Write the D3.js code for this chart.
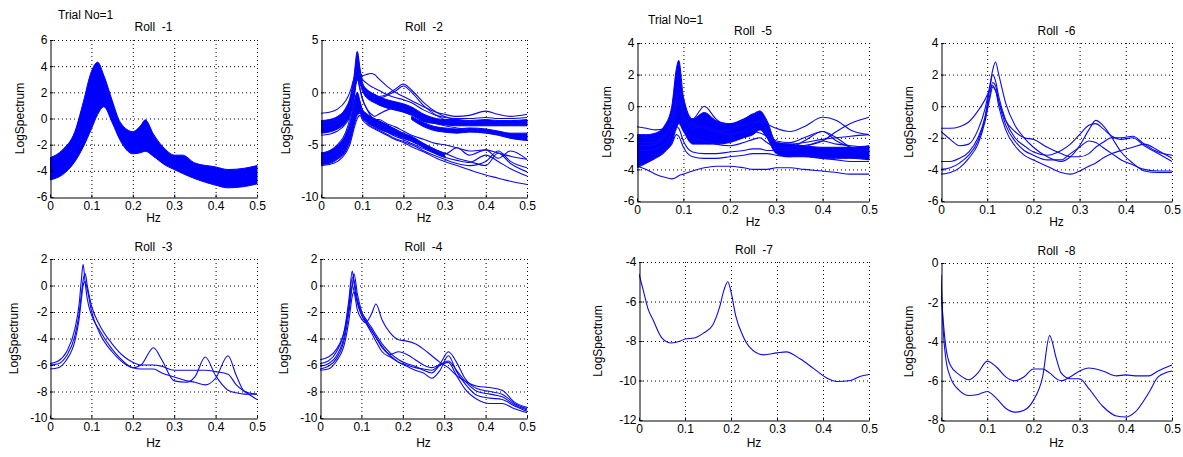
<!DOCTYPE html>
<html lang="ja">
<head>
<meta charset="UTF-8">
<title>LogSpectrum Roll 1-8</title>
<script src="https://d3js.org/d3.v7.min.js"></script>
<style>
  body { margin: 0; background: #fff; }
  svg { display: block; font-family: "Liberation Sans", Arial, sans-serif; }
  .grid line { stroke: #000; stroke-width: 1; stroke-dasharray: 1,3; }
  .axis text { font-size: 12px; fill: #000; font-family: "Liberation Sans", Arial, sans-serif; }
  .axis path, .axis line { stroke: #000; }
  .lbl { font-size: 12px; fill: #000; white-space: pre; }
</style>
</head>
<body>
<svg id="chart" width="1183" height="457"></svg>
<script>
// ---- data ----
const xTicks = [0, 0.1, 0.2, 0.3, 0.4, 0.5];

// Roll -1 : one dense band of curves
const roll1Hz = [0, 0.03, 0.06, 0.08, 0.1, 0.115, 0.13, 0.15, 0.17, 0.2, 0.22, 0.23, 0.25, 0.28, 0.3, 0.32, 0.35, 0.4, 0.43, 0.47, 0.5];
const roll1Hi = [-3.0, -2.4, -1.0, 1.2, 3.6, 4.3, 3.3, 1.4, -0.3, -1.0, -0.5, -0.1, -1.2, -2.4, -2.8, -2.8, -3.4, -3.7, -3.9, -3.8, -3.6];
const roll1Lo = [-4.7, -4.3, -3.3, -2.2, -0.8, 0.3, 0.9, -0.3, -1.7, -2.7, -2.6, -2.5, -2.9, -3.6, -3.9, -4.2, -4.6, -5.1, -5.3, -5.2, -5.0];

// Roll -2 : two groups
const roll2Hz = [0, 0.02, 0.04, 0.06, 0.07, 0.08, 0.088, 0.095, 0.1, 0.11, 0.12, 0.13, 0.14, 0.16, 0.18, 0.2, 0.22, 0.25, 0.28, 0.3, 0.33, 0.36, 0.4, 0.43, 0.46, 0.5];
const roll2UpperHi = [-2.7, -2.6, -2.3, -1.5, -0.6, 1.5, 3.9, 2.2, 1.0, 0.3, 0.0, -0.2, -0.4, -0.7, -0.9, -1.1, -1.4, -2.1, -2.5, -2.6, -2.6, -2.7, -2.6, -2.7, -2.7, -2.6];
const roll2UpperLo = [-3.9, -3.8, -3.5, -2.9, -2.2, -0.6, 1.2, 0.8, 0.2, -0.5, -0.8, -1.0, -1.2, -1.5, -1.7, -1.9, -2.2, -2.8, -3.0, -3.1, -3.2, -3.2, -3.2, -3.2, -3.2, -3.2];
const roll2BranchHi = [null, null, null, null, null, null, null, null, null, null, null, null, null, null, null, null, -2.3, -2.9, -3.3, -3.4, -3.5, -3.4, -3.5, -3.7, -3.9, -3.9];
const roll2BranchLo = [null, null, null, null, null, null, null, null, null, null, null, null, null, null, null, null, -2.6, -3.3, -3.7, -3.8, -3.9, -3.8, -3.9, -4.1, -4.4, -4.6];
const roll2LowerHi = [-5.8, -5.6, -5.1, -4.0, -2.9, -1.0, 0.0, -0.9, -1.6, -2.0, -2.3, -2.5, -2.7, -3.1, -3.5, -3.9, -4.2, -4.9, -5.5, -5.9, null, null, null, null, null, null];
const roll2LowerLo = [-6.9, -6.8, -6.4, -5.6, -4.7, -3.2, -2.2, -2.0, -2.4, -2.8, -3.1, -3.3, -3.5, -3.8, -4.1, -4.4, -4.7, -5.3, -5.9, -6.2, null, null, null, null, null, null];
const roll2Lines = [
  [-2.0, -1.9, -1.6, -0.8, 0.0, 1.3, 2.2, 1.8, 1.6, 1.7, 1.8, 1.7, 1.3, 0.6, 0.0, -0.4, -0.8, -1.4, -1.9, -2.1, -2.3, -2.2, -1.8, -2.1, -2.3, -2.1],
  [-3.0, -2.9, -2.6, -1.8, -0.9, 0.8, 2.8, 1.5, 0.8, 0.3, 0.0, -0.2, -0.4, -0.2, 0.3, 0.8, 0.2, -1.0, -1.9, -2.3, -2.6, -2.8, -2.8, -2.9, -3.0, -3.0],
  [-3.3, -3.2, -2.9, -2.2, -1.3, 0.5, 2.0, 1.0, 0.5, 0.0, -0.3, -0.5, -0.6, -0.3, 0.1, 0.6, 0.0, -1.3, -2.2, -2.6, -2.8, -2.9, -3.0, -3.1, -3.1, -3.0],
  [-2.8, -2.7, -2.4, -1.6, -0.7, 1.0, 3.3, 2.0, 1.3, 0.9, 0.6, 0.4, 0.2, -0.2, -0.5, -0.7, -1.0, -1.7, -2.2, -2.4, -2.5, -2.5, -2.4, -2.5, -2.5, -2.4],
  [-4.1, -4.0, -3.7, -3.0, -2.3, -0.5, 1.8, 0.3, -0.5, -1.5, -2.0, -2.3, -2.1, -1.7, -1.5, -1.6, -2.0, -2.6, -3.0, -3.2, -3.4, -3.6, -3.8, -4.0, -4.2, -4.3],
  [-5.8, -5.6, -5.0, -3.8, -2.5, 0.0, 1.2, 0.2, -0.6, -1.5, -2.2, -2.6, -2.6, -3.0, -3.3, -3.7, -4.1, -4.5, -4.9, -5.0, -5.3, -5.6, -5.5, -5.8, -6.1, -6.4],
  [-6.3, -6.2, -5.8, -4.8, -3.8, -2.0, -0.8, -1.3, -1.8, -2.4, -2.8, -3.0, -3.2, -3.6, -4.0, -4.3, -4.6, -5.1, -5.6, -5.9, -5.3, -6.0, -5.5, -6.3, -5.6, -6.4],
  [-7.0, -6.9, -6.6, -5.8, -5.0, -3.5, -2.5, -2.2, -2.6, -3.0, -3.3, -3.5, -3.7, -4.1, -4.5, -4.8, -5.2, -5.7, -6.3, -6.6, -7.0, -7.4, -7.9, -8.2, -8.5, -8.8],
  [-6.6, -6.5, -6.1, -5.2, -4.3, -2.8, -1.5, -1.7, -2.2, -2.6, -3.0, -3.2, -3.4, -3.8, -4.2, -4.5, -4.9, -5.4, -5.9, -6.2, -6.5, -6.7, -6.0, -6.6, -7.3, -8.0],
  [-6.1, -6.0, -5.6, -4.6, -3.6, -1.6, -0.3, -1.0, -1.7, -2.2, -2.6, -2.8, -3.0, -3.4, -3.8, -4.1, -4.5, -5.0, -5.5, -5.8, -6.3, -6.6, -7.0, -5.8, -6.8, -7.6],
  [-6.8, -6.7, -6.3, -5.5, -4.6, -3.0, -1.9, -1.9, -2.4, -2.8, -3.2, -3.4, -3.6, -4.0, -4.4, -4.7, -5.0, -5.6, -6.1, -6.4, -6.8, -7.0, -6.6, -5.6, -6.6, -7.2]
];

// Roll -3
const roll3Hz = [0, 0.02, 0.04, 0.06, 0.07, 0.076, 0.08, 0.085, 0.09, 0.1, 0.12, 0.15, 0.18, 0.2, 0.22, 0.25, 0.27, 0.3, 0.33, 0.35, 0.375, 0.4, 0.43, 0.45, 0.47, 0.5];
const roll3Lines = [
  [-5.9, -5.7, -5.0, -3.3, -1.5, 0.5, 1.6, 0.2, -1.0, -2.2, -3.4, -4.8, -5.8, -6.2, -6.0, -4.7, -5.6, -7.2, -7.3, -6.9, -5.4, -6.8, -7.9, -8.1, -8.2, -8.2],
  [-6.0, -5.9, -5.3, -3.8, -2.2, -0.6, 0.4, 0.9, 0.0, -1.5, -3.0, -4.4, -5.4, -5.8, -6.0, -6.0, -6.1, -6.4, -6.4, -6.4, -6.4, -6.5, -6.7, -7.5, -8.0, -8.6],
  [-6.3, -6.2, -5.6, -4.2, -2.6, -1.0, 0.0, 0.3, -0.3, -1.9, -3.6, -5.0, -5.9, -6.2, -6.3, -6.3, -6.6, -6.9, -7.2, -7.3, -7.5, -7.0, -5.3, -6.8, -8.0, -8.2]
];

// Roll -4
const roll4Hz = [0, 0.02, 0.04, 0.06, 0.07, 0.078, 0.082, 0.09, 0.1, 0.11, 0.125, 0.135, 0.15, 0.17, 0.19, 0.21, 0.23, 0.25, 0.27, 0.29, 0.31, 0.33, 0.35, 0.38, 0.41, 0.44, 0.47, 0.5];
const roll4Lines = [
  [-5.6, -5.4, -4.8, -3.3, -1.6, 0.0, -0.4, -1.8, -2.5, -2.8, -2.1, -1.4, -2.6, -3.6, -4.1, -4.2, -4.4, -4.8, -5.3, -5.8, -6.2, -6.8, -7.2, -7.6, -7.7, -7.9, -8.8, -9.2],
  [-5.9, -5.7, -5.0, -3.2, -1.0, 1.1, 0.2, -1.3, -2.2, -2.7, -3.4, -3.9, -4.6, -5.2, -5.0, -5.2, -5.6, -6.0, -6.2, -5.9, -5.0, -5.8, -7.0, -7.8, -8.0, -8.2, -8.9, -9.3],
  [-6.1, -5.9, -5.3, -3.6, -1.5, 0.6, 0.4, -1.0, -2.0, -2.5, -3.2, -3.7, -4.4, -5.1, -5.6, -5.9, -6.1, -6.4, -6.6, -6.0, -5.7, -6.4, -7.2, -8.0, -8.2, -8.4, -9.0, -9.4],
  [-6.3, -6.1, -5.5, -3.9, -2.0, 0.0, 0.9, -0.6, -1.9, -2.6, -3.4, -3.9, -4.7, -5.3, -5.8, -6.1, -6.4, -6.6, -7.0, -6.4, -5.3, -6.5, -7.4, -8.3, -8.5, -8.6, -9.1, -9.5],
  [-6.4, -6.3, -5.7, -4.3, -2.6, -0.8, -0.5, -1.2, -2.2, -2.8, -3.6, -4.2, -5.0, -5.4, -5.8, -6.0, -6.2, -6.3, -6.4, -6.0, -5.8, -6.8, -7.8, -8.6, -8.9, -8.9, -9.3, -9.6]
];

// Roll -5
const roll5Hz = [0, 0.02, 0.04, 0.06, 0.075, 0.085, 0.09, 0.1, 0.12, 0.145, 0.17, 0.2, 0.23, 0.25, 0.265, 0.28, 0.3, 0.33, 0.36, 0.4, 0.43, 0.46, 0.5];
const roll5Hi = [-1.8, -1.8, -1.7, -1.2, 0.0, 2.4, 2.9, 0.6, -0.8, -0.4, -0.9, -1.1, -0.8, -0.5, -0.3, -0.9, -2.3, -2.4, -2.5, -2.6, -2.6, -2.6, -2.5];
const roll5Lo = [-3.8, -3.6, -3.3, -2.9, -2.3, -1.4, -1.1, -1.6, -2.4, -2.4, -2.4, -2.3, -2.0, -1.8, -1.5, -2.0, -3.0, -3.2, -3.2, -3.3, -3.3, -3.3, -3.4];
const roll5Lines = [
  [-3.8, -4.0, -4.3, -4.5, -4.6, -4.5, -4.4, -4.3, -4.1, -3.9, -3.8, -3.8, -3.9, -4.0, -4.0, -4.0, -3.9, -3.9, -4.0, -4.1, -4.2, -4.3, -4.3],
  [-2.0, -2.0, -2.1, -1.8, -0.8, 0.8, 1.2, 0.0, -1.0, -1.4, -1.6, -1.5, -0.9, -0.5, -0.6, -1.1, -1.4, -1.6, -1.3, -0.7, -0.9, -1.5, -1.8],
  [-2.8, -2.8, -2.7, -2.4, -1.6, -0.5, -0.3, -1.2, -2.0, -2.2, -2.4, -2.5, -2.3, -2.1, -2.0, -2.3, -2.6, -2.7, -2.5, -2.2, -1.6, -1.1, -0.7],
  [-3.5, -3.4, -3.1, -2.6, -2.0, -1.3, -1.4, -2.2, -2.9, -3.0, -3.0, -2.9, -2.8, -2.7, -2.7, -2.8, -2.8, -2.8, -2.6, -2.2, -2.4, -2.5, -2.6],
  [-2.2, -2.3, -2.3, -1.8, -1.0, 0.0, 0.2, -0.8, -0.8, 0.0, -0.8, -1.3, -1.2, -1.0, -1.0, -1.5, -2.2, -2.3, -2.0, -1.6, -2.2, -2.6, -2.8],
  [-2.5, -2.5, -2.4, -2.0, -1.2, 0.5, 0.9, -0.4, -1.4, -1.3, -1.5, -1.8, -1.6, -1.2, -0.9, -1.6, -2.6, -2.6, -2.2, -1.6, -2.0, -2.6, -2.9],
  [-1.3, -1.4, -1.5, -1.4, -1.0, 0.0, 0.4, -0.6, -1.2, -1.4, -1.6, -1.8, -1.6, -1.6, -1.7, -1.9, -2.3, -2.4, -2.3, -2.1, -2.0, -1.9, -1.8],
  [-3.9, -3.6, -3.2, -2.8, -2.4, -1.8, -1.9, -2.6, -3.2, -3.3, -3.3, -3.2, -3.1, -3.0, -3.0, -3.0, -3.1, -3.2, -3.1, -3.3, -3.4, -3.5, -3.5]
];

// Roll -6
const roll6Hz = [0, 0.02, 0.04, 0.06, 0.08, 0.095, 0.105, 0.112, 0.118, 0.125, 0.14, 0.16, 0.18, 0.2, 0.23, 0.26, 0.28, 0.3, 0.32, 0.335, 0.35, 0.37, 0.39, 0.415, 0.44, 0.47, 0.5];
const roll6Lines = [
  [-1.4, -1.4, -1.3, -1.0, -0.3, 0.4, 1.0, 1.3, 1.0, 0.3, -0.9, -1.6, -2.0, -2.1, -2.6, -3.0, -3.2, -3.2, -3.0, -2.6, -2.3, -2.0, -2.0, -1.9, -2.4, -2.9, -3.1],
  [-1.6, -2.1, -2.5, -2.4, -1.5, -0.2, 1.2, 2.3, 2.8, 2.0, 0.2, -1.2, -2.0, -2.6, -3.2, -3.5, -3.2, -2.5, -1.5, -0.9, -1.2, -2.0, -2.9, -3.6, -4.1, -4.2, -4.2],
  [-3.5, -3.5, -3.3, -2.9, -2.0, -0.7, 1.0, 2.0, 1.6, 0.6, -0.9, -2.0, -2.5, -2.9, -3.1, -2.8, -2.4, -1.8, -1.2, -1.1, -1.4, -1.9, -2.1, -2.0, -2.5, -3.0, -3.5],
  [-4.0, -3.9, -3.6, -3.1, -2.2, -0.8, 0.6, 1.5, 1.3, 0.3, -1.2, -2.2, -2.8, -3.1, -3.4, -3.4, -3.0, -2.6, -2.2, -2.3, -2.6, -3.0, -3.4, -3.7, -4.0, -4.1, -4.1],
  [-4.3, -4.2, -3.9, -3.3, -2.4, -1.0, 0.4, 1.2, 1.0, 0.0, -1.5, -2.5, -3.1, -3.4, -3.8, -4.2, -4.3, -4.1, -3.8, -3.6, -3.3, -3.0, -2.8, -2.6, -2.4, -2.8, -3.3]
];

// Roll -7
const roll7Hz = [0, 0.01, 0.02, 0.03, 0.05, 0.07, 0.09, 0.1, 0.12, 0.14, 0.16, 0.175, 0.185, 0.193, 0.2, 0.21, 0.225, 0.24, 0.27, 0.3, 0.32, 0.35, 0.38, 0.41, 0.43, 0.46, 0.48, 0.5];
const roll7Lines = [
  [-4.6, -5.5, -6.4, -6.9, -7.85, -8.1, -8.0, -7.9, -7.85, -7.6, -7.2, -6.3, -5.4, -5.0, -5.5, -6.7, -7.7, -8.3, -8.7, -8.6, -8.55, -8.9, -9.4, -9.9, -10.05, -10.0, -9.8, -9.7]
];

// Roll -8
const roll8Hz = [0, 0.005, 0.01, 0.02, 0.04, 0.06, 0.08, 0.1, 0.12, 0.14, 0.16, 0.18, 0.2, 0.22, 0.235, 0.25, 0.26, 0.28, 0.3, 0.32, 0.35, 0.38, 0.4, 0.42, 0.45, 0.47, 0.5];
const roll8Lines = [
  [-1.4, -3.0, -4.2, -5.2, -5.7, -5.95, -5.6, -5.0, -5.3, -5.8, -6.0, -5.8, -5.4, -5.4, -5.6, -5.9, -6.0, -5.8, -5.5, -5.35, -5.5, -5.75, -5.7, -5.75, -5.75, -5.5, -5.2],
  [-0.6, -3.5, -4.8, -5.8, -6.5, -6.75, -6.7, -6.55, -6.9, -7.4, -7.6, -7.5, -7.0, -5.8, -3.7, -4.9, -5.6, -5.9, -5.9, -6.4, -7.3, -7.8, -7.85, -7.6, -6.6, -5.8, -5.5]
];

// ---- panel layout ----
const panels = [
  {title: "Roll  -1", hz: roll1Hz, bands: [[roll1Lo, roll1Hi]], lines: [], y: [-6, 6], yStep: 2,
   box: [50, 257, 40, 197], ylabX: 20, titleY: 31, hzY: 222},
  {title: "Roll  -2", hz: roll2Hz, bands: [[roll2UpperLo, roll2UpperHi], [roll2BranchLo, roll2BranchHi], [roll2LowerLo, roll2LowerHi]],
   lines: roll2Lines, y: [-10, 5], yStep: 5, box: [321, 527, 40, 197], ylabX: 286, titleY: 31, hzY: 222},
  {title: "Roll  -3", hz: roll3Hz, bands: [], lines: roll3Lines, y: [-10, 2], yStep: 2,
   box: [50, 257, 259, 418], ylabX: 14, titleY: 251, hzY: 447},
  {title: "Roll  -4", hz: roll4Hz, bands: [], lines: roll4Lines, y: [-10, 2], yStep: 2,
   box: [320, 527, 259, 418], ylabX: 284, titleY: 251, hzY: 447},
  {title: "Roll  -5", hz: roll5Hz, bands: [[roll5Lo, roll5Hi]], lines: roll5Lines, y: [-6, 4], yStep: 2,
   box: [637, 869, 43, 201], ylabX: 607, titleY: 35, hzY: 226},
  {title: "Roll  -6", hz: roll6Hz, bands: [], lines: roll6Lines, y: [-6, 4], yStep: 2,
   box: [941, 1172, 43, 201], ylabX: 909, titleY: 35, hzY: 226},
  {title: "Roll  -7", hz: roll7Hz, bands: [], lines: roll7Lines, y: [-12, -4], yStep: 2,
   box: [639, 869, 262, 420], ylabX: 598, titleY: 254, hzY: 447},
  {title: "Roll  -8", hz: roll8Hz, bands: [], lines: roll8Lines, y: [-8, 0], yStep: 2,
   box: [941, 1172, 263, 420], ylabX: 909, titleY: 255, hzY: 447}
];

const svg = d3.select("#chart");
svg.append("rect").attr("width", 1183).attr("height", 457).attr("fill", "#fff");

svg.append("text").attr("class", "lbl").attr("x", 58).attr("y", 19).text("Trial No=1");
svg.append("text").attr("class", "lbl").attr("x", 648).attr("y", 24).text("Trial No=1");

const fmt = d => String(+d.toFixed(1));

panels.forEach((p, i) => {
  const [left, right, top, bottom] = p.box;
  const x = d3.scaleLinear().domain([0, 0.5]).range([left, right]);
  const y = d3.scaleLinear().domain(p.y).range([bottom, top]);
  const yTicks = d3.range(p.y[0], p.y[1] + 0.001, p.yStep);

  const g = svg.append("g");

  // dotted grid
  const grid = g.append("g").attr("class", "grid");
  grid.selectAll(".gx").data(xTicks.slice(1)).join("line")
    .attr("x1", d => x(d) + 0.5).attr("x2", d => x(d) + 0.5)
    .attr("y1", top).attr("y2", bottom);
  grid.selectAll(".gy").data(yTicks.slice(1)).join("line")
    .attr("x1", left).attr("x2", right)
    .attr("y1", d => y(d) + 0.5).attr("y2", d => y(d) + 0.5);

  const clipId = "clip" + i;
  g.append("clipPath").attr("id", clipId).append("rect")
    .attr("x", left).attr("y", top - 2).attr("width", right - left + 2).attr("height", bottom - top + 2);
  const plot = g.append("g").attr("clip-path", `url(#${clipId})`);

  // dense bundles of curves drawn as filled bands
  p.bands.forEach(([lo, hi]) => {
    const area = d3.area()
      .defined((d, k) => lo[k] != null && hi[k] != null)
      .x(d => x(d))
      .y0((d, k) => y(lo[k]))
      .y1((d, k) => y(hi[k]))
      .curve(d3.curveMonotoneX);
    plot.append("path").datum(p.hz)
      .attr("d", area)
      .attr("fill", "#0000ff")
      .attr("stroke", "#0000ff")
      .attr("stroke-width", 1);
  });

  // single curves
  p.lines.forEach(vals => {
    const line = d3.line()
      .defined((d, k) => vals[k] != null)
      .x(d => x(d))
      .y((d, k) => y(vals[k]))
      .curve(d3.curveMonotoneX);
    plot.append("path").datum(p.hz)
      .attr("d", line)
      .attr("fill", "none")
      .attr("stroke", "#0a0af0")
      .attr("stroke-width", 1.1);
  });

  // axes
  g.append("g").attr("class", "axis")
    .attr("transform", `translate(0,${bottom + 0.5})`)
    .call(d3.axisBottom(x).tickValues(xTicks).tickFormat(fmt).tickSizeInner(-3).tickSizeOuter(0).tickPadding(4));
  g.append("g").attr("class", "axis")
    .attr("transform", `translate(${left + 0.5},0)`)
    .call(d3.axisLeft(y).tickValues(yTicks).tickFormat(d => String(d)).tickSizeInner(-3).tickSizeOuter(0).tickPadding(3));
  g.selectAll(".axis text").attr("fill", "#000");

  // labels
  g.append("text").attr("class", "lbl")
    .attr("x", (left + right) / 2).attr("y", p.titleY)
    .attr("text-anchor", "middle").text(p.title);
  g.append("text").attr("class", "lbl")
    .attr("x", (left + right) / 2).attr("y", p.hzY)
    .attr("text-anchor", "middle").text("Hz");
  g.append("text").attr("class", "lbl")
    .attr("transform", `translate(${p.ylabX},${(top + bottom) / 2}) rotate(-90)`)
    .attr("text-anchor", "middle").attr("dy", "0.35em").text("LogSpectrum");
});
</script>
</body>
</html>
